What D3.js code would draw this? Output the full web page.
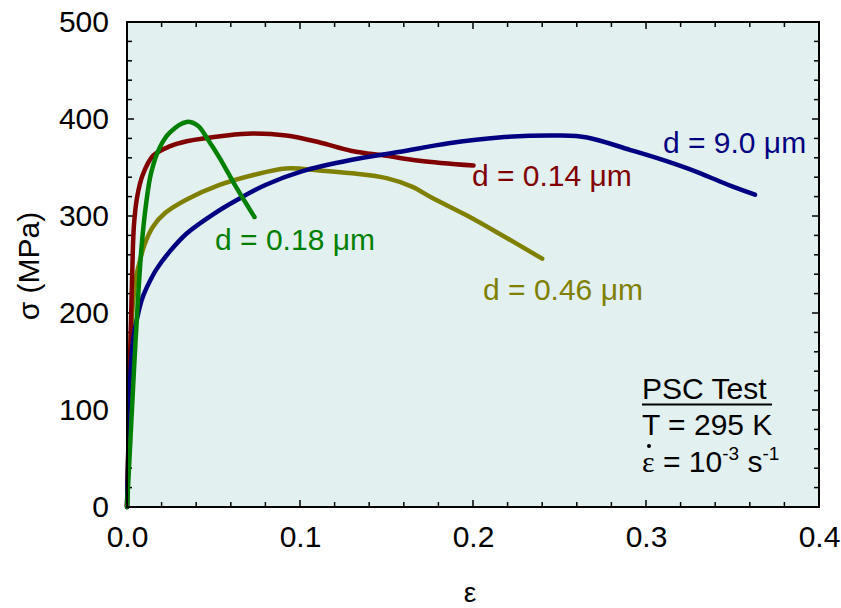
<!DOCTYPE html>
<html>
<head>
<meta charset="utf-8">
<script src="https://cdn.jsdelivr.net/npm/d3@7"></script>
<style>
  html, body { margin: 0; padding: 0; background: #ffffff; }
  svg { display: block; }
  text { font-family: Arial, "Liberation Sans", sans-serif; }
</style>
</head>
<body>
<svg id="chart" width="841" height="608"></svg>
<script>
// Stress–strain curves from plane strain compression (PSC) tests, by grain size d
const strain9_0 = [0, 0.0008, 0.0017, 0.0035, 0.006, 0.009, 0.013, 0.017, 0.025, 0.0345, 0.05, 0.063, 0.08, 0.101, 0.13, 0.157, 0.186, 0.215, 0.249, 0.266, 0.291, 0.311, 0.330, 0.349, 0.363];
const stress9_0 = [0, 59, 127, 172, 196, 216, 232, 245, 264, 282, 302, 316, 332, 346, 358, 366, 375, 381, 383, 381, 368, 357, 345, 331, 322];

const strain0_14 = [0, 0.001, 0.002, 0.003, 0.004, 0.0058, 0.009, 0.015, 0.025, 0.0345, 0.0575, 0.0725, 0.092, 0.111, 0.130, 0.150, 0.169, 0.2003];
const stress0_14 = [0, 80, 170, 240, 290, 319, 342, 362, 372, 377, 383, 385, 383, 376, 367, 362, 357, 352];

const strain0_18 = [0, 0.002, 0.004, 0.0063, 0.0085, 0.011, 0.014, 0.019, 0.0247, 0.0345, 0.041, 0.047, 0.0535, 0.063, 0.0737];
const stress0_18 = [0, 70, 140, 213, 270, 312, 345, 371, 386, 397, 393, 378, 360, 330, 299];

const strain0_46 = [0, 0.001, 0.002, 0.003, 0.005, 0.0075, 0.01, 0.015, 0.022, 0.0345, 0.0535, 0.0725, 0.092, 0.111, 0.130, 0.150, 0.165, 0.176, 0.196, 0.215, 0.240];
const stress0_46 = [0, 80, 160, 200, 235, 254, 270, 289, 303, 317, 332, 342, 349, 347, 344, 339, 330, 319, 301, 282, 256];

const xTickValues = [0, 0.1, 0.2, 0.3, 0.4];
const xTickLabels = ["0.0", "0.1", "0.2", "0.3", "0.4"];
const yTickValues = [0, 100, 200, 300, 400, 500];
const yTickLabels = ["0", "100", "200", "300", "400", "500"];

const seriesNames = ["d = 0.46 \u03BCm", "d = 0.14 \u03BCm", "d = 9.0 \u03BCm", "d = 0.18 \u03BCm"];
const seriesStrain = [strain0_46, strain0_14, strain9_0, strain0_18];
const seriesStress = [stress0_46, stress0_14, stress9_0, stress0_18];
const seriesColors = ["#808000", "#800000", "#000080", "#008000"];
// label anchor in data units (left edge, baseline)
const labelStrain = [0.2058, 0.1994, 0.3098, 0.0509];
const labelStress = [213, 331, 365, 265];

const FS = 30;
const svg = d3.select("#chart");
const margin = { left: 127, right: 841 - 819, top: 22, bottom: 608 - 507 };
const W = 841 - margin.left - margin.right;
const H = 608 - margin.top - margin.bottom;

const x = d3.scaleLinear().domain([0, 0.4]).range([margin.left, margin.left + W]);
const y = d3.scaleLinear().domain([0, 500]).range([margin.top + H, margin.top]);

// plot background
svg.append("rect")
  .attr("x", x(0)).attr("y", y(500))
  .attr("width", W).attr("height", H)
  .attr("fill", "#e3f0f0");

// inward ticks on all four sides
const xMinor = d3.range(0, 0.4001, 0.02);
const yMinor = d3.range(0, 500.1, 20);
const tickG = svg.append("g").attr("stroke", "#000").attr("stroke-width", 1.5);
xMinor.forEach(v => {
  const major = Math.abs(v * 10 - Math.round(v * 10)) < 1e-6;
  const len = major ? 7 : 5;
  tickG.append("line").attr("x1", x(v)).attr("x2", x(v)).attr("y1", y(0)).attr("y2", y(0) - len);
  tickG.append("line").attr("x1", x(v)).attr("x2", x(v)).attr("y1", y(500)).attr("y2", y(500) + len);
});
yMinor.forEach(v => {
  const major = Math.abs(v % 100) < 1e-6;
  const len = major ? 7 : 5;
  tickG.append("line").attr("y1", y(v)).attr("y2", y(v)).attr("x1", x(0)).attr("x2", x(0) + len);
  tickG.append("line").attr("y1", y(v)).attr("y2", y(v)).attr("x1", x(0.4)).attr("x2", x(0.4) - len);
});

// tick labels via d3 axes (tick lines hidden; drawn above)
const xAxis = d3.axisBottom(x).tickValues(xTickValues)
  .tickFormat((d, i) => xTickLabels[i]).tickSize(0).tickPadding(19);
const yAxis = d3.axisLeft(y).tickValues(yTickValues)
  .tickFormat((d, i) => yTickLabels[i]).tickSize(0).tickPadding(18);

const gx = svg.append("g").attr("transform", `translate(0,${y(0)})`).call(xAxis);
const gy = svg.append("g").attr("transform", `translate(${x(0)},0)`).call(yAxis);
[gx, gy].forEach(g => {
  g.select(".domain").remove();
  g.selectAll("text").attr("font-size", FS).attr("fill", "#000")
    .attr("font-family", "Arial, 'Liberation Sans', sans-serif");
});

// curves
const line = d3.line().curve(d3.curveCatmullRom.alpha(0.5));
seriesStrain.forEach((xs, i) => {
  const pts = xs.map((v, j) => [x(v), y(seriesStress[i][j])]);
  svg.append("path")
    .attr("d", line(pts))
    .attr("fill", "none")
    .attr("stroke", seriesColors[i])
    .attr("stroke-width", 4.5)
    .attr("stroke-linejoin", "round")
    .attr("stroke-linecap", "round");
});

// frame
svg.append("rect")
  .attr("x", x(0)).attr("y", y(500))
  .attr("width", W).attr("height", H)
  .attr("fill", "none").attr("stroke", "#000").attr("stroke-width", 2);

// curve labels
seriesNames.forEach((name, i) => {
  svg.append("text")
    .attr("x", x(labelStrain[i])).attr("y", y(labelStress[i]))
    .attr("font-size", FS).attr("fill", seriesColors[i])
    .text(name);
});

// test conditions
const infoX = 642;
svg.append("text").attr("x", infoX).attr("y", 399).attr("font-size", FS).text("PSC Test");
svg.append("line").attr("x1", infoX).attr("x2", 772).attr("y1", 404.5).attr("y2", 404.5)
  .attr("stroke", "#000").attr("stroke-width", 2);
svg.append("text").attr("x", infoX).attr("y", 435).attr("font-size", FS).text("T = 295 K");
const rate = svg.append("text").attr("x", infoX).attr("y", 472).attr("font-size", FS);
rate.append("tspan").attr("font-family", "'Times New Roman', 'Liberation Serif', serif").text("\u03B5");
rate.append("tspan").text(" = 10");
rate.append("tspan").attr("font-size", 19).attr("dy", -12).text("-3");
rate.append("tspan").attr("dy", 12).text(" s");
rate.append("tspan").attr("font-size", 19).attr("dy", -12).text("-1");
// rate dot over epsilon
svg.append("circle").attr("cx", infoX + 7).attr("cy", 446).attr("r", 2).attr("fill", "#000");

// axis titles
svg.append("text")
  .attr("transform", `translate(39,266) rotate(-90)`)
  .attr("text-anchor", "middle").attr("font-size", FS)
  .text("\u03C3 (MPa)");
svg.append("text")
  .attr("x", 470).attr("y", 602)
  .attr("text-anchor", "middle").attr("font-size", 28)
  .attr("font-family", "'Times New Roman', 'Liberation Serif', serif")
  .text("\u03B5");
</script>
</body>
</html>
